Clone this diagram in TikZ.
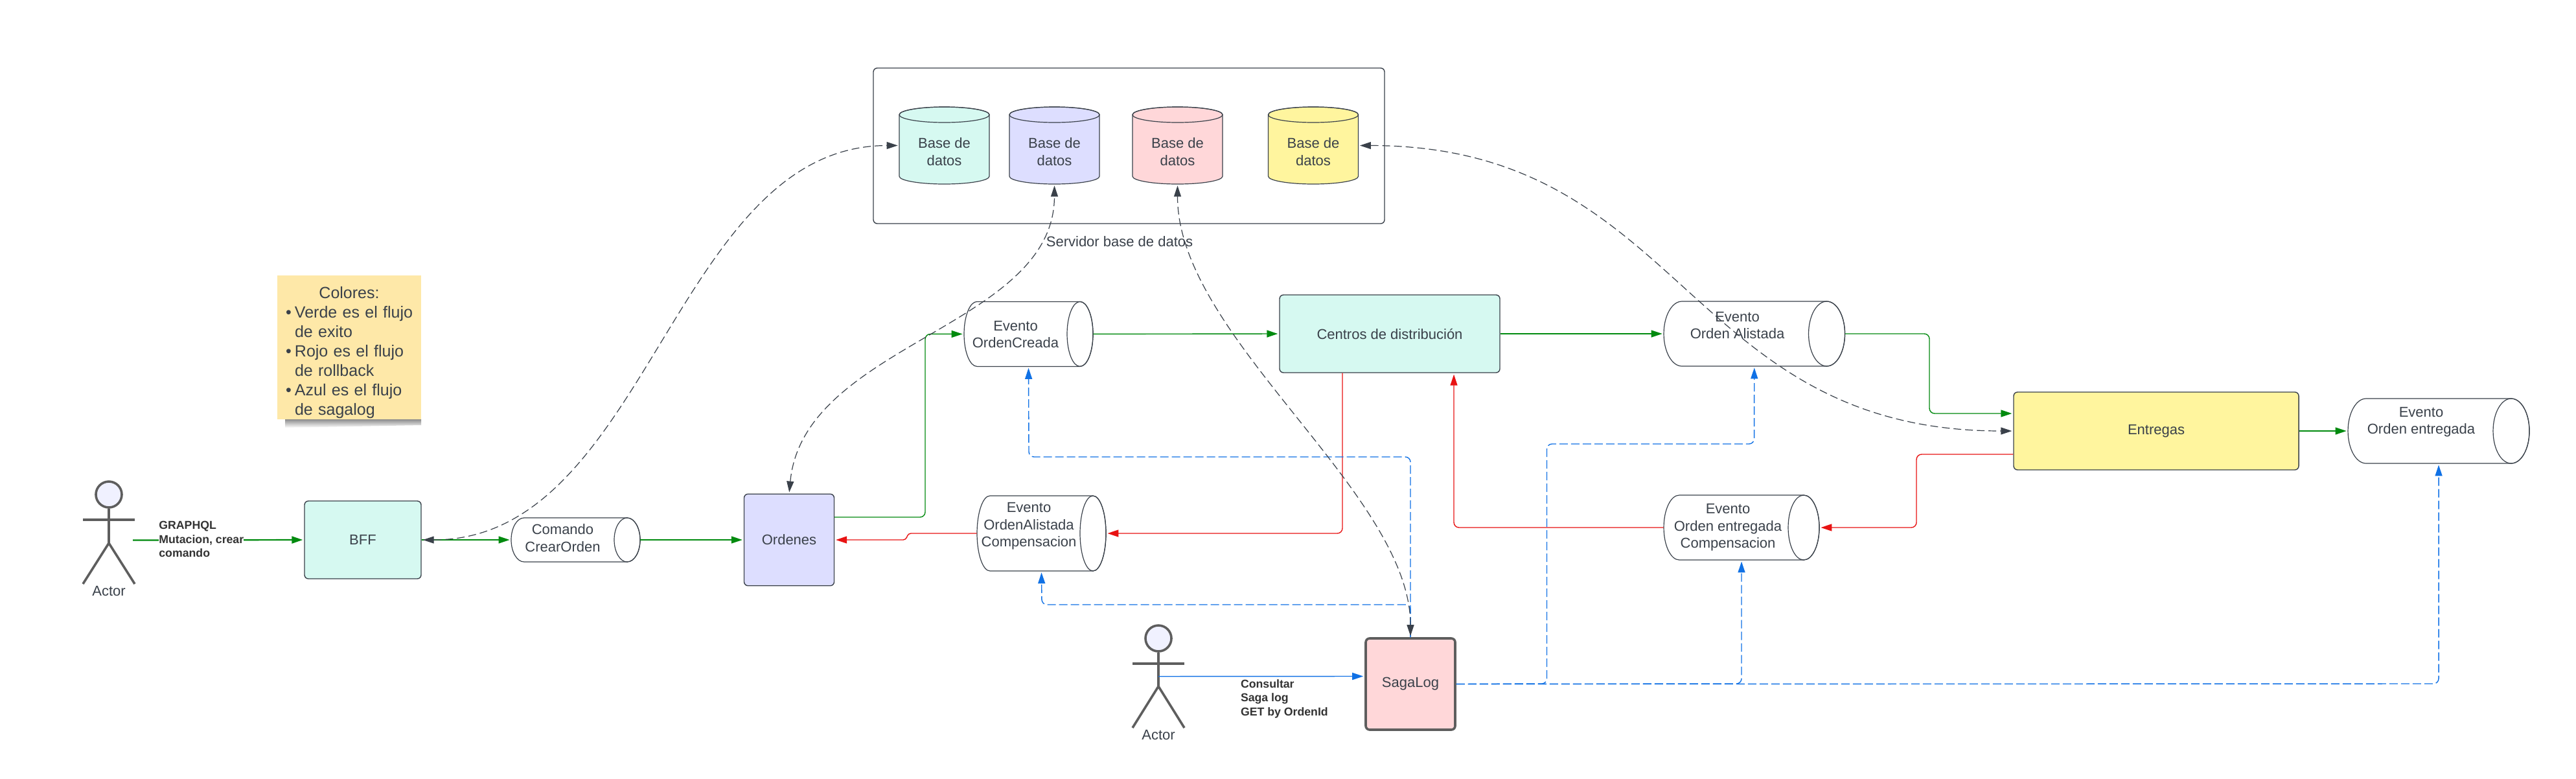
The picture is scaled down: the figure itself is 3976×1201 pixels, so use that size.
\documentclass[tikz,border=0pt]{standalone}
\usepackage{fontspec}
\setmainfont{Liberation Sans}
\usetikzlibrary{arrows.meta,calc}
\definecolor{ink}{HTML}{3A414A}
\definecolor{okgreen}{HTML}{008A0E}
\definecolor{rbred}{HTML}{E81313}
\definecolor{sagablue}{HTML}{1071E5}
\definecolor{mint}{HTML}{D6F9F1}
\definecolor{lilac}{HTML}{DDDEFF}
\definecolor{rose}{HTML}{FFD7D9}
\definecolor{lemon}{HTML}{FFF59E}
\definecolor{stickyc}{HTML}{FEE8A8}
\definecolor{headc}{HTML}{F0F1FF}
\definecolor{actorc}{HTML}{5E5E5E}
\tikzset{
  x=0.5pt,y=-0.5pt,
  tx/.style={text=ink,font=\fontsize{11}{13.2}\selectfont,align=center,inner sep=0pt},
  boxn/.style={tx,draw=ink,line width=.7pt,rounded corners=3pt},
  cylline/.style={draw=ink,line width=.6pt},
  flow/.style={line width=.7pt,rounded corners=4pt,-{Triangle[length=8.5pt,width=5.5pt]},shorten >=1pt},
  okflow/.style={flow,draw=okgreen},
  rbflow/.style={flow,draw=rbred},
  sgflow/.style={flow,draw=sagablue,dash pattern=on 6.5pt off 2.5pt},
  dbflow/.style={draw=ink,line width=.6pt,dash pattern=on 6pt off 3pt,{Triangle[length=8.5pt,width=5.5pt]}-{Triangle[length=8.5pt,width=5.5pt]},shorten >=1pt,shorten <=1pt},
  lbl/.style={text=black!80,font=\bfseries\fontsize{8.85}{10.75}\selectfont,align=left,inner sep=0pt},
  actorhead/.style={draw=actorc,line width=1.8pt,fill=headc,circle,inner sep=0pt,minimum size=20pt},
  limb/.style={draw=actorc,line width=1.8pt},
}
\newcommand{\blt}[1]{\mbox{\hspace*{6.5pt}\makebox[7pt][l]{•}#1}}
\newcommand{\nob}[1]{\mbox{\hspace*{13.5pt}#1}}
% horizontal cylinder: name, cx, cy, half width, half height, end radius (pixels)
\newcommand{\hcyl}[6]{%
  \node[inner sep=0pt,minimum width={#4*1pt},minimum height={#5*1pt}] (#1) at (#2,#3) {};
  \begin{scope}[shift={(#2,#3)}]
    \draw[cylline,fill=white] ({#4-#6},{-#5}) -- ({-#4+#6},{-#5})
      arc[start angle=90,end angle=270,x radius={#6*.5pt},y radius={#5*.5pt}]
      -- ({#4-#6},{#5})
      arc[start angle=-90,end angle=90,x radius={#6*.5pt},y radius={#5*.5pt}] -- cycle;
    \draw[cylline] ({#4-#6},0) ellipse[x radius={#6*.5pt},y radius={#5*.5pt}];
  \end{scope}}
% vertical cylinder: name, cx, cy, fill colour
\newcommand{\vcyl}[4]{%
  \node[inner sep=0pt,minimum width=69.5pt,minimum height=59.5pt] (#1) at (#2,#3) {};
  \begin{scope}[shift={(#2,#3)}]
    \draw[cylline,fill=#4] (-69.5,-47.5) -- (-69.5,47.5)
      arc[start angle=180,end angle=360,x radius=34.75pt,y radius=6pt]
      -- (69.5,-47.5)
      arc[start angle=0,end angle=180,x radius=34.75pt,y radius=6pt] -- cycle;
    \draw[cylline] (0,-47.5) ellipse[x radius=34.75pt,y radius=6pt];
  \end{scope}}
\begin{document}
\begin{tikzpicture}
\useasboundingbox (0,0) rectangle (3976,1201);
\fill[white] (0,0) rectangle (3976,1201);

% sticky note
\shade[top color=black!45,bottom color=white] (440,647) -- (650,647) -- (650,656) -- (440,660) -- cycle;
\node[fill=stickyc,text=ink,inner sep=0pt,minimum width=111pt,minimum height=111pt,text width=111pt,align=left,
  font=\fontsize{12.5}{15}\selectfont] (note) at (539,536)
  {\rule{0pt}{17pt}\makebox[111pt][c]{Colores:}\\ \blt{Verde es el flujo}\\ \nob{de exito}\\ \blt{Rojo es el flujo}\\ \nob{de rollback}\\ \blt{Azul es el flujo}\\ \nob{de sagalog}};

% database server
\node[draw=ink,line width=.7pt,rounded corners=3pt,minimum width=394.5pt,minimum height=120pt] (server) at (1742.5,225) {};
\node[tx] (serverlbl) at (1728,373) {Servidor base de datos};
\vcyl{db1}{1457.5}{224.5}{mint}
\vcyl{db2}{1627.5}{224.5}{lilac}
\vcyl{db3}{1817.5}{224.5}{rose}
\vcyl{db4}{2027}{224.5}{lemon}
\node[tx] (db1t) at (1457.5,234) {Base de\\datos};
\node[tx] (db2t) at (1627.5,234) {Base de\\datos};
\node[tx] (db3t) at (1817.5,234) {Base de\\datos};
\node[tx] (db4t) at (2027,234) {Base de\\datos};

% services
\node[boxn,fill=mint,minimum width=90pt,minimum height=60pt] (bff) at (560,833) {BFF};
\node[boxn,fill=lilac,minimum width=69.5pt,minimum height=70.75pt] (ord) at (1218,833) {Ordenes};
\node[boxn,fill=mint,minimum width=170pt,minimum height=60pt] (cen) at (2145,515) {Centros de distribución};
\node[boxn,fill=lemon,minimum width=220pt,minimum height=60pt] (ent) at (3328,665) {Entregas};
\node[boxn,fill=rose,draw=actorc,line width=1.8pt,minimum width=69pt,minimum height=70.5pt] (saga) at (2177,1055.5) {SagaLog};

% event cylinders
\hcyl{cmd}{888.5}{833}{99.5}{34}{20}
\hcyl{evc}{1587.5}{515.4}{99.5}{50}{20}
\hcyl{eac}{1607.5}{823}{99.5}{58}{20}
\hcyl{eal}{2707.75}{515}{139.75}{50}{28}
\hcyl{eec}{2688}{814}{120}{50}{24}
\hcyl{een}{3764}{665}{140}{50}{28}
\node[tx] (cmdt) at (868.5,830) {Comando\\CrearOrden};
\node[tx] (evct) at (1567.5,516) {Evento\\OrdenCreada};
\node[tx] (eact) at (1588,812) {Evento\\OrdenAlistada\\Compensacion};
\node[tx] (ealt) at (2681.5,502) {Evento\\Orden Alistada};
\node[tx] (eect) at (2667,814) {Evento\\Orden entregada\\Compensacion};
\node[tx] (eent) at (3737,651) {Evento\\Orden entregada};

% actors
\node[actorhead] (actA) at (168,763) {};
\draw[limb] (actA.south) -- (168,838) coordinate (actAhip);
\draw[limb,line width=2.2pt] (128,802) -- (208,802);
\draw[limb] (actAhip) -- (128,901);
\draw[limb] (actAhip) -- (208,901);
\node[tx] (actAl) at (168,912) {Actor};
\coordinate (actAhand) at (205,833.5);

\node[actorhead] (actB) at (1788,985) {};
\draw[limb] (actB.south) -- (1788,1059) coordinate (actBhip);
\draw[limb,line width=2.2pt] (1748,1024) -- (1828,1024);
\draw[limb] (actBhip) -- (1748,1123);
\draw[limb] (actBhip) -- (1828,1123);
\node[tx] (actBl) at (1788,1134) {Actor};
\coordinate (actBhand) at (1788,1043.7);

% success flow
\draw[okflow,line width=1.1pt] (actAhand) -- (bff.west);
\node[lbl,fill=white,anchor=west] (gql) at (245,832) {GRAPHQL\\Mutacion, crear\\comando};
\draw[okflow] (bff.east) -- (cmd.west);
\draw[okflow] (cmd.east) -- (ord.west);
\draw[okflow] ([yshift=17.5pt]ord.east) -- (1428,798) -- (1428,515.4) -- (evc.west);
\draw[okflow] (evc.east) -- (cen.west);
\draw[okflow] (cen.east) -- (eal.west);
\draw[okflow] (eal.east) -- (2978,515) -- (2978,638) -- ([yshift=13.5pt]ent.west);
\draw[okflow] (ent.east) -- (een.west);

% rollback flow
\draw[rbflow] ([yshift=-18pt]ent.west) -- (2958,701) -- (2958,814) -- (eec.east);
\draw[rbflow] (eec.west) -- (2244,814) -- ([xshift=49.5pt]cen.south);
\draw[rbflow] ([xshift=-36.5pt]cen.south) -- (2072,823) -- (eac.east);
\draw[rbflow,rounded corners=2pt] (eac.west) -- (1402,823) -- (1398,833) -- (ord.east);

% saga log flow
\draw[flow,draw=sagablue] (actBhand) -- ([yshift=6pt]saga.west);
\node[lbl,anchor=west] (cons) at (1914.6,1078) {Consultar\\Saga log\\GET by OrdenId};
\draw[sgflow] (saga.north) -- (2177,933) -- (1608,933) -- (eac.south);
\draw[sgflow] (saga.north) -- (2177,705) -- (1588,705) -- (evc.south);
\draw[sgflow] (saga.east) -- (2387.5,1055) -- (2387.5,685) -- (2707.5,685) -- (eal.south);
\draw[sgflow] (saga.east) -- (2688,1055) -- (eec.south);
\draw[sgflow] (saga.east) -- (3764,1055) -- (een.south);

% database links
\draw[dbflow] (bff.east) .. controls (1000,833) and (1040,225) .. (db1.west);
\draw[dbflow] (ord.north) .. controls (1240,530) and (1627,505) .. (db2.south);
\draw[dbflow] (saga.north) .. controls (2177,760) and (1817,520) .. (db3.south);
\draw[dbflow] (db4.east) .. controls (2600,225) and (2600,665) .. (ent.west);
\end{tikzpicture}
\end{document}
